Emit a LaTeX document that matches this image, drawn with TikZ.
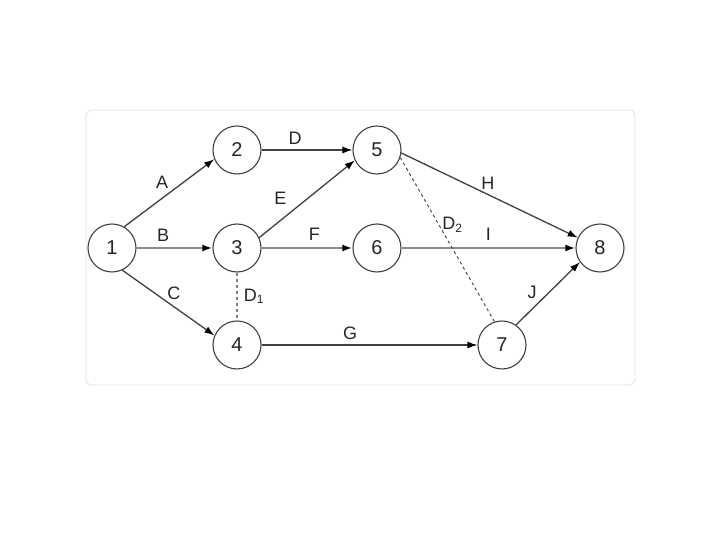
\documentclass[tikz,border=0pt]{standalone}
\usepackage{fontspec}
\setmainfont{Liberation Sans}
\usetikzlibrary{arrows.meta,positioning}

\begin{document}
\begin{tikzpicture}[
  node distance=48.5pt and 62.5pt, on grid,
  every node/.style={font=\fontsize{9}{10}\selectfont},
  ev/.style={draw=black!75, circle, minimum size=24pt, inner sep=0pt,
             line width=0.55pt, font=\fontsize{10}{11}\selectfont, text=black!85},
  lbl/.style={inner sep=1.5pt, text=black!85},
  arr/.style={-{Latex[length=5pt,width=3.5pt,color=black]}, draw=black!75, line width=0.65pt},
  garr/.style={arr, draw=black!45, line width=1.3pt},
  dum/.style={draw=black!70, dash pattern=on 1.5pt off 1.5pt, line width=0.5pt}
]
  \useasboundingbox (-56pt,124pt) rectangle (304pt,-146pt);
  \draw[draw=black!12, fill=white, rounded corners=3pt] (-13pt,69pt) rectangle (261.5pt,-68.5pt);
  \node[ev]                      (n1) {1};
  \node[ev, right=62.5pt of n1]  (n3) {3};
  \node[ev, above=49pt of n3]    (n2) {2};
  \node[ev, below=48.5pt of n3]  (n4) {4};
  \node[ev, right=70pt of n3]    (n6) {6};
  \node[ev, above=49pt of n6]    (n5) {5};
  \node[ev, right=132.5pt of n4] (n7) {7};
  \node[ev, right=111.5pt of n6] (n8) {8};
  % activities
  \draw[arr]  (n1.60)--(n2.202) node[lbl, pos=.42, above=3pt] {A};
  \draw[garr] (n1)--(n3) node[lbl, pos=.35, above=1pt] {B};
  \draw[arr]  (n1.-65)--(n4.157) node[lbl, pos=.56, above=1.5pt] {C};
  \draw[arr]  (n2)--(n5) node[lbl, pos=.37, above=1pt] {D};
  \draw[arr]  (n3.25)--(n5.205) node[lbl, pos=.22, above=6pt] {E};
  \draw[garr] (n3)--(n6) node[lbl, pos=.58, above=1.5pt] {F};
  \draw[arr]  (n4)--(n7) node[lbl, pos=.41, above=1pt] {G};
  \draw[arr]  (n5.-7)--(n8.155) node[lbl, pos=.49, above=0.5pt] {H};
  \draw[garr] (n6)--(n8) node[lbl, pos=.5, above=1.5pt] {I};
  \draw[arr]  (n7.55)--(n8.215) node[lbl, pos=.25, above=3.5pt] {J};
  % dummies
  \draw[dum, draw=black!50, line width=0.8pt] (n3)--(n4) node[lbl, midway, right=1.5pt] {D\textsubscript{1}};
  \draw[dum] (n5.-18)--(n7.108) node[lbl, pos=.41, right=0pt] {D\textsubscript{2}};
\end{tikzpicture}
\end{document}
